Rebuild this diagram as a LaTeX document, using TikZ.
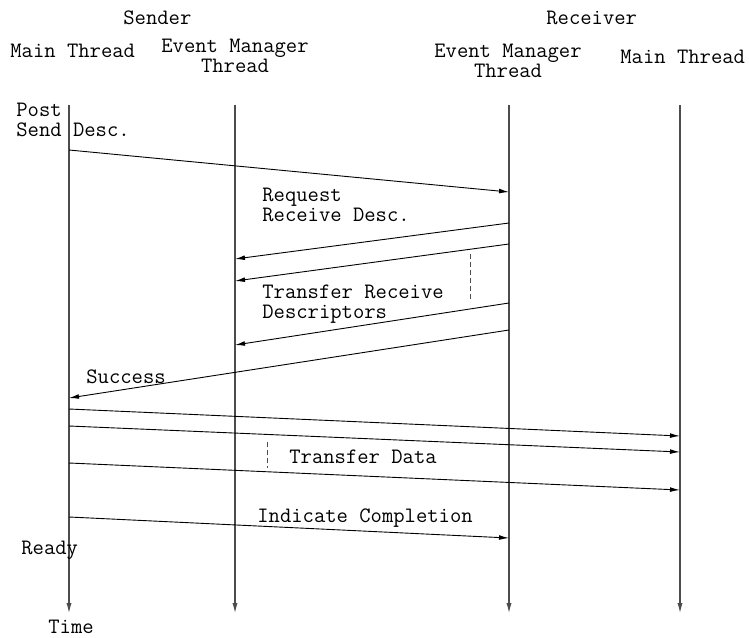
\documentclass[tikz,border=0pt]{standalone}
\usepackage{fontspec}
\usetikzlibrary{arrows.meta}
\begin{document}
\begin{tikzpicture}[x=0.5pt,y=-0.5pt,
  txt/.style={inner sep=0pt,font=\ttfamily\fontsize{11}{12}\selectfont},
  lifeline/.style={draw=black!70,line width=0.55pt,-{Latex[length=5pt,width=2.6pt]}},
  msg/.style={draw=black,line width=0.45pt,-{Latex[length=5pt,width=2.4pt]}},
  gapline/.style={draw=black!70,line width=0.45pt,dash pattern=on 2.5pt off 1.5pt}]
\useasboundingbox (0,0) rectangle (749,637);
% headings
\node[txt,anchor=base west] (snd) at (123,25) {Sender};
\node[txt,anchor=base west] (rcv) at (546,25) {Receiver};
\node[txt,anchor=base west] (smt) at (10,57) {Main Thread};
\node[txt,anchor=base] (sem1) at (235,52) {Event Manager};
\node[txt,anchor=base] (sem2) at (235,72) {Thread};
\node[txt,anchor=base] (rem1) at (508,57) {Event Manager};
\node[txt,anchor=base] (rem2) at (508,77) {Thread};
\node[txt,anchor=base west] (rmt) at (620,63) {Main Thread};
% lifelines
\coordinate (At) at (69,105);  \coordinate (Ab) at (69,613);
\coordinate (Bt) at (235,105); \coordinate (Bb) at (235,613);
\coordinate (Ct) at (509,105); \coordinate (Cb) at (509,613);
\coordinate (Dt) at (680,105); \coordinate (Db) at (680,613);
\draw[lifeline] (At) -- (Ab);
\draw[lifeline] (Bt) -- (Bb);
\draw[lifeline] (Ct) -- (Cb);
\draw[lifeline] (Dt) -- (Db);
% labels
\node[txt,anchor=base west] (post) at (16,116) {Post};
\node[txt,anchor=base west] (send) at (16,136) {Send Desc.};
\node[txt,anchor=base west] (req1) at (262,201) {Request};
\node[txt,anchor=base west] (req2) at (262,221) {Receive Desc.};
\node[txt,anchor=base west] (tr1) at (262,298) {Transfer Receive};
\node[txt,anchor=base west] (tr2) at (262,318) {Descriptors};
\node[txt,anchor=base west] (succ) at (86,383) {Success};
\node[txt,anchor=base west] (tdat) at (289,463) {Transfer Data};
\node[txt,anchor=base west] (ind) at (257,522) {Indicate Completion};
\node[txt,anchor=base west] (rdy) at (21,554) {Ready};
\node[txt,anchor=base west] (time) at (48,633) {Time};
% message endpoints
\coordinate (m1s) at (69,150);  \coordinate (m1e) at (509,192);
\coordinate (m2s) at (509,223); \coordinate (m2e) at (235,259);
\coordinate (m3s) at (509,244); \coordinate (m3e) at (235,281);
\coordinate (m4s) at (509,303); \coordinate (m4e) at (235,345);
\coordinate (m5s) at (509,330); \coordinate (m5e) at (69,398);
\coordinate (m6s) at (69,409);  \coordinate (m6e) at (680,436);
\coordinate (m7s) at (69,426);  \coordinate (m7e) at (680,452);
\coordinate (m8s) at (69,463);  \coordinate (m8e) at (680,490);
\coordinate (m9s) at (69,517);  \coordinate (m9e) at (509,538);
\draw[msg] (m1s) -- (m1e);
\draw[msg] (m2s) -- (m2e);
\draw[msg] (m3s) -- (m3e);
\draw[msg] (m4s) -- (m4e);
\draw[msg] (m5s) -- (m5e);
\draw[msg] (m6s) -- (m6e);
\draw[msg] (m7s) -- (m7e);
\draw[msg] (m8s) -- (m8e);
\draw[msg] (m9s) -- (m9e);
% dashed gap markers
\coordinate (g1t) at (470,254); \coordinate (g1b) at (470,300);
\coordinate (g2t) at (267,442); \coordinate (g2b) at (267,468);
\draw[gapline] (g1t) -- (g1b);
\draw[gapline] (g2t) -- (g2b);
\end{tikzpicture}
\end{document}
